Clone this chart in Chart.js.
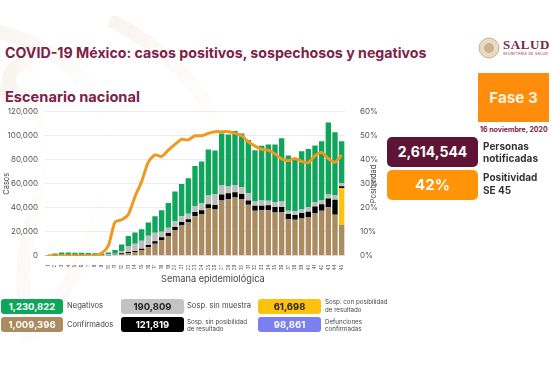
<!DOCTYPE html>
<html lang="es"><head><meta charset="utf-8">
<script src="https://cdn.jsdelivr.net/npm/chart.js@4"></script>
<style>
html,body{margin:0;padding:0;background:#fff}
#p{position:relative;width:552px;height:368px;overflow:hidden;font-family:Inter,sans-serif;background:#fff}
#p div.t{position:absolute;white-space:nowrap}
.b{position:absolute;border-radius:3px;text-align:center;font-weight:700}
#bg{position:absolute;left:0;top:16px;width:552px;height:324px}
#c{position:absolute;left:0;top:100px;width:385px;height:183px}
</style></head><body>
<div id="p">
<svg id="bg" viewBox="0 16 552 324"><defs><linearGradient id="g" x1="0" x2="1" y1="0" y2="0"><stop offset="0" stop-color="#f8f4ee"/><stop offset=".5" stop-color="#fcfaf8"/><stop offset="1" stop-color="#fff"/></linearGradient></defs>
<g fill="none" stroke="url(#g)" stroke-width="14"><path d="M-10 30C40 40 90 70 110 120S90 240 60 300"/><path d="M-10 90C30 90 60 130 50 170S10 240 30 340"/><path d="M110 20C170 50 220 100 230 170"/><circle cx="25" cy="80" r="16"/></g></svg>
<div class="t" style="left:5px;top:44px;font-size:14.2px;font-weight:700;color:#7d2248">COVID-19 México: casos positivos, sospechosos y negativos</div>
<div class="t" style="left:5px;top:88px;font-size:14.6px;font-weight:700;color:#7d2248">Escenario nacional</div>
<canvas id="c" width="385" height="183"></canvas>
<div class="t" style="left:161px;top:273px;font-size:9.2px;color:#444">Semana epidemiológica</div>
<div class="t" style="left:373px;top:183.5px;font-size:7.5px;color:#444;transform:translate(-50%,-50%) rotate(-90deg)">Positividad</div>
<svg style="position:absolute;left:478px;top:37px" width="22" height="22"><circle cx="11" cy="11" r="10" fill="#e9dcc6" stroke="#c9b48e"/><circle cx="11" cy="11" r="5" fill="#c9b48e"/></svg>
<div class="t" style="left:503px;top:37px;font:700 13px 'Liberation Serif',serif;letter-spacing:.6px;color:#7d2248">SALUD</div>
<div class="t" style="left:503px;top:52px;font-size:3.5px;color:#7d2248;letter-spacing:.3px">SECRETARÍA DE SALUD</div>
<div class="b" style="left:478px;top:73px;width:71px;height:49px;line-height:49px;background:#ff8c0a;color:#fff2dc;font-size:15.2px;border-radius:0">Fase 3</div>
<div class="t" style="left:480px;top:124.5px;font-size:7px;font-weight:700;color:#7d2248">16 noviembre, 2020</div>
<div class="b" style="left:387px;top:137px;width:91px;height:30px;line-height:30px;background:#5f1436;color:#fff;font-size:14px;border-radius:5px">2,614,544</div>
<div class="b" style="left:387px;top:170px;width:91px;height:30px;line-height:30px;background:#ff9408;color:#fff;font-size:15px;border-radius:5px">42%</div>
<div class="t" style="left:483px;top:140px;font-size:10px;font-weight:700;line-height:12px;color:#333">Personas<br>notificadas</div>
<div class="t" style="left:483px;top:171px;font-size:10px;font-weight:700;line-height:13px;color:#333">Positividad<br>SE 45</div>
<div class="b" style="left:1px;top:298.5px;width:62px;height:15px;line-height:15px;background:#0ea65a;color:#fff;font-size:9.5px">1,230,822</div>
<div class="t" style="left:67px;top:301px;font-size:7.6px;color:#444">Negativos</div>
<div class="b" style="left:1px;top:317px;width:62px;height:15px;line-height:15px;background:#ab8b5f;color:#fff;font-size:9.5px">1,009,396</div>
<div class="t" style="left:67px;top:320px;font-size:7.6px;color:#444">Confirmados</div>
<div class="b" style="left:121px;top:298.5px;width:63px;height:15px;line-height:15px;background:#c3c3c3;color:#222;font-size:9.5px">190,809</div>
<div class="t" style="left:187px;top:301px;font-size:7.6px;color:#444">Sosp. sin muestra</div>
<div class="b" style="left:121px;top:317px;width:63px;height:15px;line-height:15px;background:#000;color:#fff;font-size:9.5px">121,819</div>
<div class="t" style="left:187px;top:317.5px;font-size:6.2px;line-height:7.5px;color:#444">Sosp. sin posibilidad<br>de resultado</div>
<div class="b" style="left:258px;top:298.5px;width:63px;height:15px;line-height:15px;background:#fdc20d;color:#222;font-size:9.5px">61,698</div>
<div class="t" style="left:325px;top:298px;font-size:6.2px;line-height:7.5px;color:#444">Sosp. con posibilidad<br>de resultado</div>
<div class="b" style="left:258px;top:317px;width:63px;height:15px;line-height:15px;background:#7b7ff0;color:#fff;font-size:9.5px">98,861</div>
<div class="t" style="left:325px;top:317.5px;font-size:6.2px;line-height:7.5px;color:#444">Defunciones<br>confirmadas</div>
</div>
<script>
const weeks = Array.from({length:45},(_, i)=>String(i+1));
const confirmados = [0,50,80,60,50,50,40,40,80,200,500,1500,2000,3000,4700,7000,10000,13000,16400,21400,25500,27800,33000,34700,39700,38600,46100,47200,48600,47200,42500,37500,37800,37800,36100,36400,30300,30000,31100,32200,35600,37500,40300,33900,25500];
const conPosibilidad = [0,0,0,0,0,0,0,0,0,0,0,0,0,0,0,0,0,0,0,0,0,0,0,0,0,0,0,0,0,0,0,0,0,0,0,0,0,0,0,0,0,0,0,300,31000];
const sinPosibilidad = [0,20,30,30,30,20,20,20,30,100,200,500,1000,1000,1000,2000,2000,2300,2600,2600,2500,2500,3400,3300,3300,3600,5000,4800,4400,4200,3600,4200,3900,4200,4500,4200,4400,3900,4500,4500,5500,5500,7500,12500,1500];
const sinMuestra = [50,100,150,140,120,120,100,100,120,700,1000,2000,5000,6000,6800,7700,7200,4700,4300,5000,5000,4700,5000,5600,7300,9200,7500,5800,6000,5800,5900,3600,4400,3800,4100,4700,2800,3100,3000,3600,3600,3100,3300,3600,2500];
const negativos = [450,1750,2450,2470,2300,2210,2140,1940,1270,1700,3000,5400,8500,9400,9500,11000,13800,18000,20700,24500,26700,29500,33300,35000,38300,36400,43400,43200,45000,44800,44400,42700,45600,47000,48100,52700,46100,44000,48400,48700,47300,49400,59900,52700,35000];
const positividad = [0,0,0,0,0,0,0,0,1,4.2,14,15,17.2,24.6,31,39,42,41.4,44,46.4,48.5,48.3,50,50,51,51.7,51.7,51.7,51,50,47.5,45.7,44.4,44,42.4,40.4,39.6,40.5,39.3,38.8,41.7,43,40.5,39,42];
const bar=(label,data,backgroundColor)=>({type:'bar',label,data,backgroundColor,yAxisID:'y',stack:'s',barPercentage:.8,categoryPercentage:1,order:2});
new Chart(document.getElementById('c'),{
 data:{labels:weeks,datasets:[
  {type:'line',label:'Positividad',data:positividad,yAxisID:'y2',borderColor:'#f0981f',borderWidth:3,pointRadius:0,tension:.25,order:1},
  bar('Confirmados',confirmados,'#ab8b5f'),
  bar('Sosp. con posibilidad de resultado',conPosibilidad,'#fdc20d'),
  bar('Sosp. sin posibilidad de resultado',sinPosibilidad,'#000'),
  bar('Sosp. sin muestra',sinMuestra,'#bdbdbd'),
  bar('Negativos',negativos,'#0ea65a')
 ]},
 options:{responsive:false,animation:false,
  layout:{padding:{top:11.7,left:2,right:0,bottom:0}},
  plugins:{legend:{display:false},tooltip:{enabled:false}},
  scales:{
   x:{stacked:true,grid:{display:false},border:{display:false},
      afterFit(s){s.height=27.3},
      ticks:{color:'#555',font:{family:'Inter',size:4.5},minRotation:90,maxRotation:90,autoSkip:false,padding:1}},
   y:{stacked:true,min:0,max:120000,grid:{color:'#ececec',drawTicks:false},border:{display:false},
      title:{display:true,text:'Casos',color:'#444',font:{family:'Inter',size:7.5},padding:{top:0,bottom:2}},
      afterFit(s){s.width=43},
      ticks:{stepSize:20000,color:'#555',padding:7,font:{family:'Inter',size:8},callback:v=>v.toLocaleString('en-US')}},
   y2:{position:'right',min:0,max:60,grid:{display:false},border:{display:false},
      afterFit(s){s.width=40},
      ticks:{stepSize:10,color:'#555',padding:7,font:{family:'Inter',size:8},callback:v=>v+'%'}}
  }}
});
</script></body></html>
